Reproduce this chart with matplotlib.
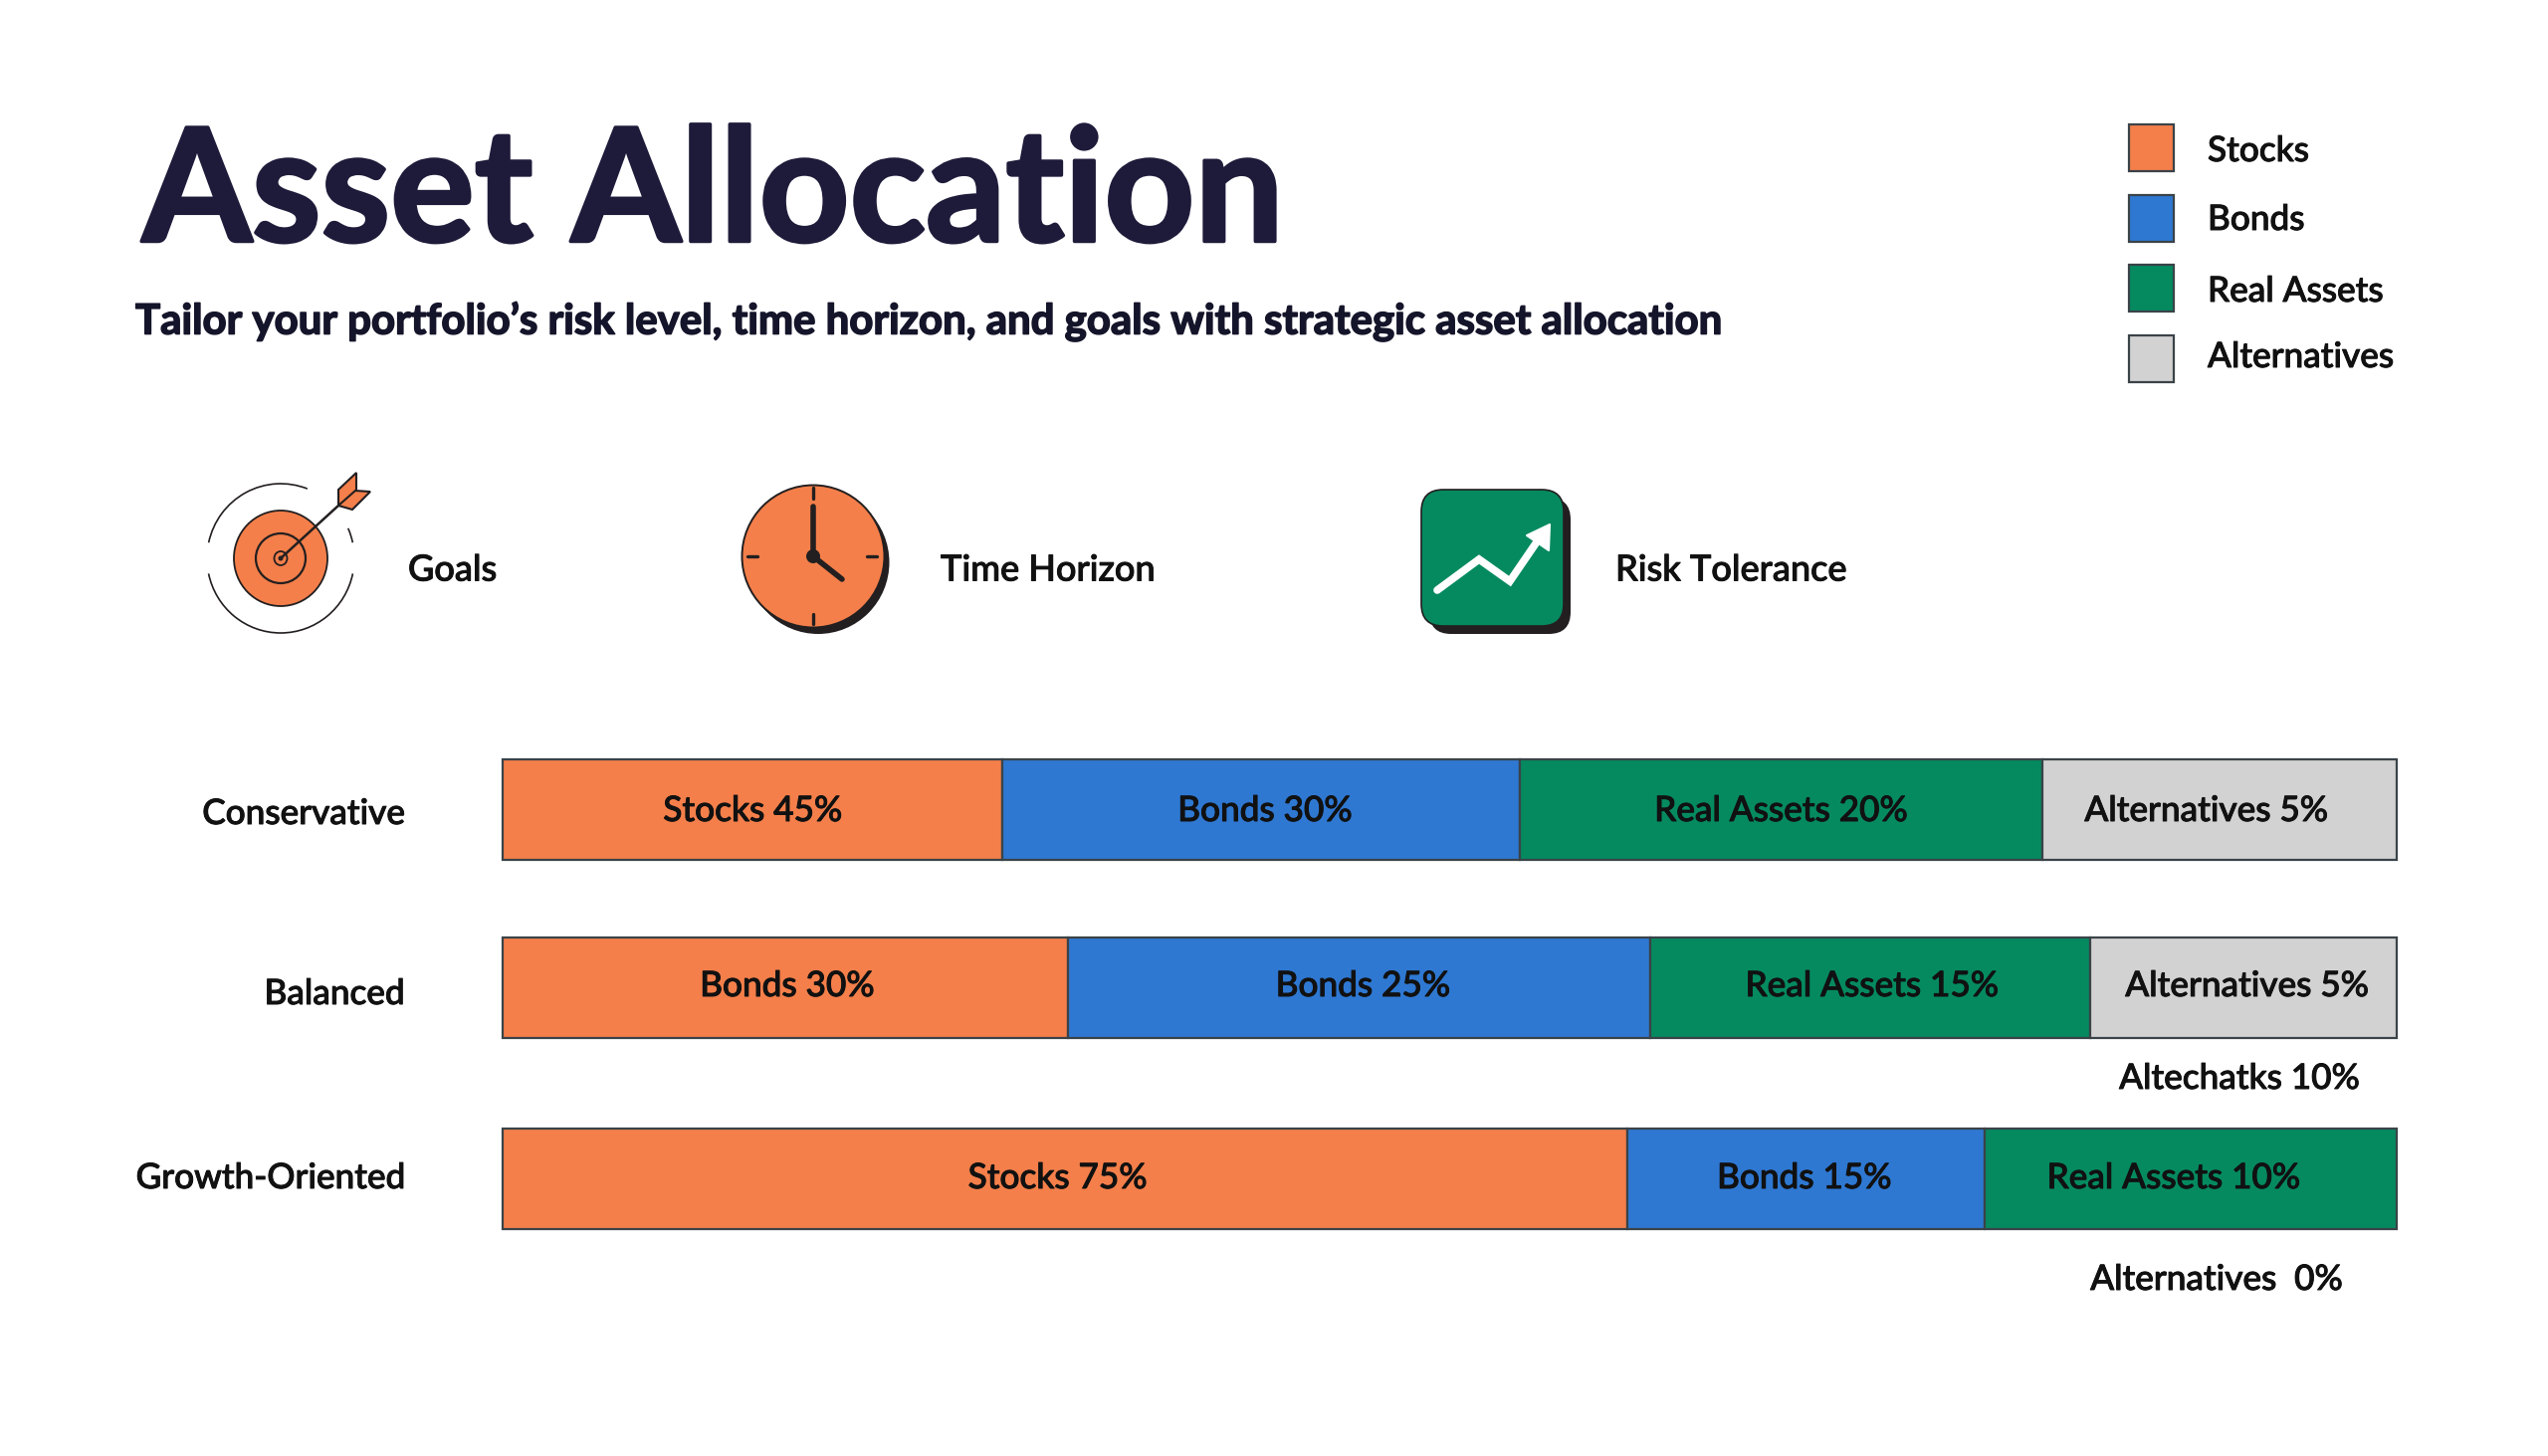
import numpy as np
import matplotlib
matplotlib.use('Agg')
import matplotlib.pyplot as plt
import matplotlib.patheffects as pe
from matplotlib.patches import Rectangle, Ellipse, Arc, Polygon, FancyBboxPatch

plt.rcParams['font.family'] = ['Lato', 'DejaVu Sans']

ORANGE = '#F47F4A'
BLUE = '#2E78D2'
GREEN = '#058A60'
GREY = '#D2D2D2'
DARK = '#231F20'
NAVY = '#1E1B3A'

# widths are the share of each bar as drawn
assets = ['Stocks', 'Bonds', 'Real Assets', 'Alternatives']
colors = [ORANGE, BLUE, GREEN, GREY]
profiles = ['Conservative', 'Balanced', 'Growth-Oriented']
conservative = [26.4, 27.3, 27.6, 18.7]
balanced = [29.85, 30.75, 23.2, 16.2]
growth = [59.4, 18.85, 21.75, 0]
conservative_labels = ['Stocks 45%', 'Bonds 30%', 'Real Assets 20%', 'Alternatives 5%']
balanced_labels = ['Bonds 30%', 'Bonds 25%', 'Real Assets 15%', 'Alternatives 5%']
growth_labels = ['Stocks 75%', 'Bonds 15%', 'Real Assets 10%', '']
features = ['Goals', 'Time Horizon', 'Risk Tolerance']

fig = plt.figure(figsize=(25.6, 14.63), dpi=100, facecolor='white')

# overlay in pixel coords for text and icons
pg = fig.add_axes([0, 0, 1, 1])
pg.set_xlim(0, 2560)
pg.set_ylim(1463, 0)
pg.axis('off')

W = 2560.0
H = 1463.0
L, R = 505, 2408
T, B = 760, 1237
ax = fig.add_axes([L / W, 1 - B / H, (R - L) / W, (B - T) / H])
ax.set_xlim(0, 100)
ax.set_ylim(B, T)
ax.axis('off')

# slight outline to get the heavier look of the original lettering
heavy = [pe.withStroke(linewidth=0.7, foreground='#111111')]
txt = dict(fontsize=25.3, weight='medium', color='#111111', path_effects=heavy)

rows = [(conservative, conservative_labels, 813, 815, [0, 0.2, 0, -0.7]),
        (balanced, balanced_labels, 992, 991, [0.1, 0.2, 0.1, 0.2]),
        (growth, growth_labels, 1184, 1184, [-0.4, -0.1, -0.9, 0])]
for widths, labels, yc, ytxt, dx in rows:
    left = 0
    for w, lab, c, d in zip(widths, labels, colors, dx):
        if w > 0:
            ax.barh(yc, w, height=101, left=left, color=c, edgecolor='#3A4348', linewidth=1.6, clip_on=False)
            ax.text(left + w / 2 + d, ytxt, lab, ha='center', va='center', **txt)
        left += w

# title block
pg.text(143, 197, 'Asset Allocation', fontsize=114, weight='bold', color=NAVY, ha='left', va='center',
        path_effects=[pe.withStroke(linewidth=2.5, foreground=NAVY)])
pg.text(136, 323, 'Tailor your portfolio\u2019s risk level, time horizon, and goals with strategic asset allocation',
        fontsize=30.2, weight='bold', color='#14142A', ha='left', va='center',
        path_effects=[pe.withStroke(linewidth=1.1, foreground='#14142A')])

# legend
leg_top = [125, 196, 266, 337]
leg_text = [152, 221, 293, 359]
for name, c, t, ty in zip(assets, colors, leg_top, leg_text):
    pg.add_patch(Rectangle((2139, t), 45, 47, facecolor=c, edgecolor='#3A4348', linewidth=1.6))
    pg.text(2218, ty, name, ha='left', va='center', **txt)

# feature labels
for name, x in zip(features, [410, 945, 1623]):
    pg.text(x, 573, name, ha='left', va='center', **dict(txt, fontsize=26))

# profile names
for name, y in zip(profiles, [818, 999, 1184]):
    pg.text(407, y, name, ha='right', va='center', **txt)

# labels sitting below the bars
pg.text(2250, 1084, 'Altechatks 10%', ha='center', va='center', **txt)
pg.text(2227, 1286, 'Alternatives  0%', ha='center', va='center', **txt)

# target icon
cx, cy = 282, 561
pg.add_patch(Ellipse((cx, cy), 94, 96, facecolor=ORANGE, edgecolor=DARK, linewidth=1.3))
pg.add_patch(Ellipse((cx, cy), 50, 50, fill=False, edgecolor=DARK, linewidth=1.6))
pg.add_patch(Ellipse((cx, cy), 13, 14, fill=False, edgecolor=DARK, linewidth=1.3))
pg.add_patch(Ellipse((cx, cy), 5, 5, facecolor=DARK, edgecolor='none'))
# y axis is flipped so the arc angles run clockwise on screen
for a, b in [(-167.7, -69), (-348, -192), (-24, -12.3)]:
    pg.add_patch(Arc((cx, cy), 148, 150, theta1=a, theta2=b, edgecolor=DARK, linewidth=1.2))
pg.plot([cx, 340], [cy, 508], color=DARK, linewidth=1.8, solid_capstyle='round')
pg.add_patch(Polygon([(358, 475), (358, 495), (340, 508), (340, 492)], facecolor=ORANGE, edgecolor=DARK, linewidth=1.5))
pg.add_patch(Polygon([(340, 508), (354, 512), (372, 494), (357, 493)], facecolor=ORANGE, edgecolor=DARK, linewidth=1.5))

# clock icon
kx, ky = 817, 559
pg.add_patch(Ellipse((kx + 5, ky + 6), 143, 144, facecolor=DARK, edgecolor='none'))
pg.add_patch(Ellipse((kx, ky), 143, 143, facecolor=ORANGE, edgecolor=DARK, linewidth=1.4))
for x0, y0, x1, y1 in [(817, 490, 817, 501), (817, 617, 817, 627), (751, 559, 761, 559), (871, 559, 881, 559)]:
    pg.plot([x0, x1], [y0, y1], color=DARK, linewidth=2.4, solid_capstyle='round')
pg.plot([kx, kx], [ky, 509], color=DARK, linewidth=4, solid_capstyle='round')
pg.plot([kx, 846], [ky, 582], color=DARK, linewidth=4, solid_capstyle='round')
pg.add_patch(Ellipse((kx, ky), 14, 14, facecolor=DARK, edgecolor='none'))

# chart icon
pg.add_patch(FancyBboxPatch((1436, 500), 142, 137, boxstyle='round,pad=0,rounding_size=22',
                            facecolor=DARK, edgecolor='none'))
pg.add_patch(FancyBboxPatch((1428, 492), 143, 137, boxstyle='round,pad=0,rounding_size=22',
                            facecolor=GREEN, edgecolor=DARK, linewidth=1.2))
pg.plot([1444, 1486, 1517, 1543], [593, 562, 584, 546], color='white', linewidth=5.5,
        solid_capstyle='round', solid_joinstyle='miter')
pg.add_patch(Polygon([(1557, 527), (1534, 538), (1556, 553)], facecolor='white', edgecolor='white', linewidth=1.5,
                     joinstyle='round'))

fig.savefig('out.png', dpi=100, facecolor='white')
